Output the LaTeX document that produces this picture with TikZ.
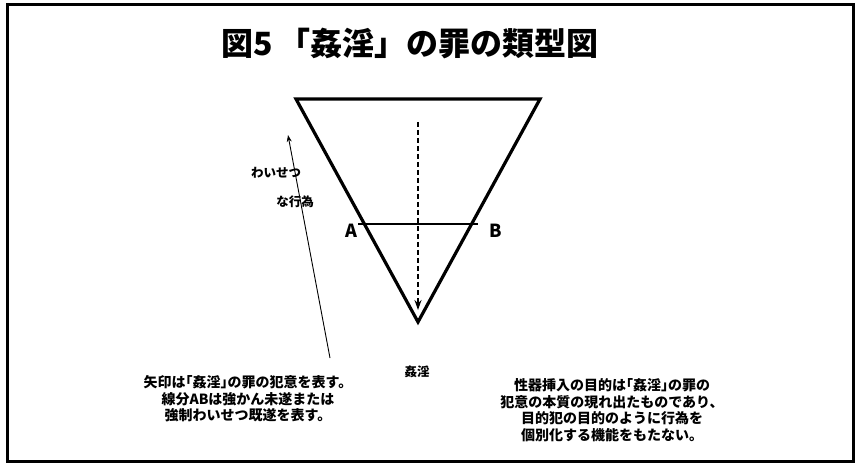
\documentclass[tikz,border=0pt]{standalone}
\usepackage{fontspec}
\newfontfamily\jp{Noto Sans CJK JP}
\usetikzlibrary{arrows.meta}
\begin{document}
\begin{tikzpicture}[x=1pt,y=-1pt,
  thick line/.style={line width=3.2pt},
  lbl/.style={font=\jp\bfseries\fontsize{12.5}{14}\selectfont, inner sep=0pt},
  note/.style={font=\jp\bfseries\fontsize{14}{16.6}\selectfont, align=center, inner sep=0pt},
  ptlbl/.style={font=\jp\bfseries\fontsize{18}{18}\selectfont, inner sep=0pt}]
\useasboundingbox (0,0) rectangle (857,465);
\draw[line width=3pt] (7,5) rectangle (853,461);
\node[font=\jp\bfseries\fontsize{32}{32}\selectfont, inner sep=0pt] (title) at (410,44) {図5\,「姦淫」の罪の類型図};
% triangle
\coordinate (TL) at (296,99);
\coordinate (TR) at (540,99);
\coordinate (V) at (418,322);
\draw[thick line, line join=miter] (TL) -- (TR) -- (V) -- cycle;
\coordinate (A) at (358,224);
\coordinate (B) at (478,224);
\draw[line width=2.8pt] (A) -- (B);
\node[ptlbl] (la) at (351,231) {A};
\node[ptlbl] (lb) at (496,231) {B};
% dashed arrow
\coordinate (d1) at (418,122);
\coordinate (d2) at (418,310);
\draw[line width=1.8pt, dash pattern=on 5pt off 3pt, -{Stealth[length=10pt,width=7pt]}] (d1) -- (d2);
% thin arrow
\coordinate (s1) at (330,358);
\coordinate (s2) at (288,135);
\draw[line width=0.9pt, -{Stealth[length=7pt,width=5pt]}] (s1) -- (s2);
\node[lbl] (w1) at (276,173) {わいせつ};
\node[lbl] (w2) at (295,202) {な行為};
\node[lbl] (kan) at (417,372) {姦淫};
\node[note] (n1) at (248,399) {矢印は｢姦淫｣の罪の犯意を表す。\\線分ABは強かん未遂または\\強制わいせつ既遂を表す。};
\node[note] (n2) at (612,410) {性器挿入の目的は｢姦淫｣の罪の\\犯意の本質の現れ出たものであり、\\目的犯の目的のように行為を\\個別化する機能をもたない。};
\end{tikzpicture}
\end{document}
